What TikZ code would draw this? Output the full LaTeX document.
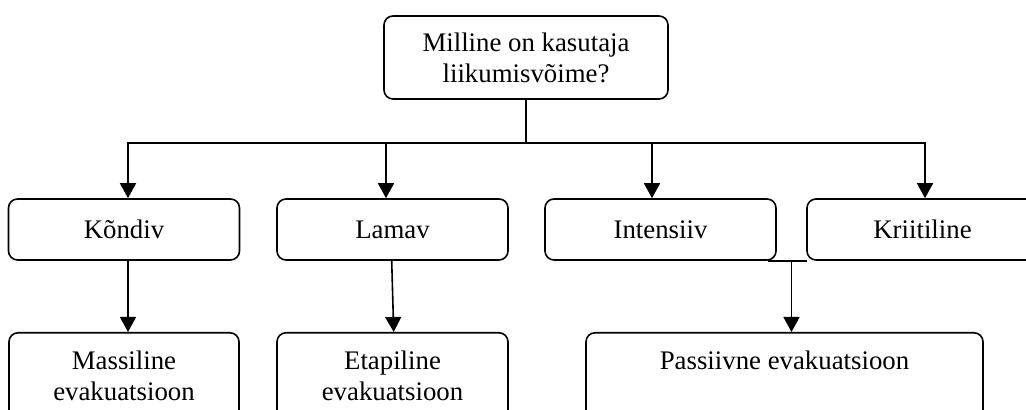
\documentclass[tikz,border=0pt]{standalone}
\usepackage{fontspec}
\setmainfont{Liberation Serif}
\usepackage{tikz}
\usetikzlibrary{arrows.meta,positioning,calc}

\begin{document}
\begin{tikzpicture}[x=0.5pt, y=0.5pt, line width=0.8pt,
    box/.style={draw, rectangle, rounded corners=4.5pt, inner sep=0pt, align=center, font=\fontsize{13.4}{15.5}\selectfont},
    level/.style={box, minimum width=115.5pt, minimum height=30.5pt},
    result/.style={box, anchor=north, inner ysep=9.3pt, text height=24.7pt, text depth=20pt},
    arr/.style={-{Triangle[length=7.5pt, width=8pt]}}]
    \useasboundingbox (0,0) rectangle (1026,410);

    % Question
    \node[box, minimum width=142pt, minimum height=41.5pt] (question) at (526,352.5) {
        Milline on kasutaja\\
        liikumisvõime?
    };
    \coordinate (bus) at (526,267);

    % Mobility levels
    \node[level] (kondiv) at (124,180.5) {Kõndiv};
    \node[level] (lamav) at (392.5,180.5) {Lamav};
    \node[level] (intensiiv) at (660.5,180.5) {Intensiiv};
    \node[level] (kriitiline) at (922.5,180.5) {Kriitiline};

    % Evacuation types
    \node[result, minimum width=115pt] (massiline) at (124,78) {
        Massiline\\
        evakuatsioon
    };
    \node[result, minimum width=115.5pt] (etapiline) at (392.5,78) {
        Etapiline\\
        evakuatsioon
    };
    \node[result, minimum width=198.5pt, text height=9.2pt, text depth=35pt] (passiivne) at (784.5,78) {Passiivne evakuatsioon};

    % Connections
    \draw (question.south) -- (bus);
    \draw[arr] (bus) -| ([xshift=2pt]kondiv.north);
    \draw[arr] (bus) -| ([xshift=-3.25pt]lamav.north);
    \draw[arr] (bus) -| ([xshift=-4.25pt]intensiiv.north);
    \draw[arr] (bus) -| ([xshift=1.25pt]kriitiline.north);
    \draw[arr] ([xshift=2pt]kondiv.south) -- ([xshift=2pt]massiline.north);
    \draw[arr] ([xshift=-0.4pt]lamav.south) -- ([xshift=0.6pt]etapiline.north);
    \draw ([xshift=-4.5pt]intensiiv.south east) -- ([xshift=0.5pt]kriitiline.south west);
    \coordinate (join) at ($(intensiiv.south east)!0.5!(kriitiline.south west)$);
    \draw[arr] (join) -- (join |- passiivne.north);
\end{tikzpicture}
\end{document}
